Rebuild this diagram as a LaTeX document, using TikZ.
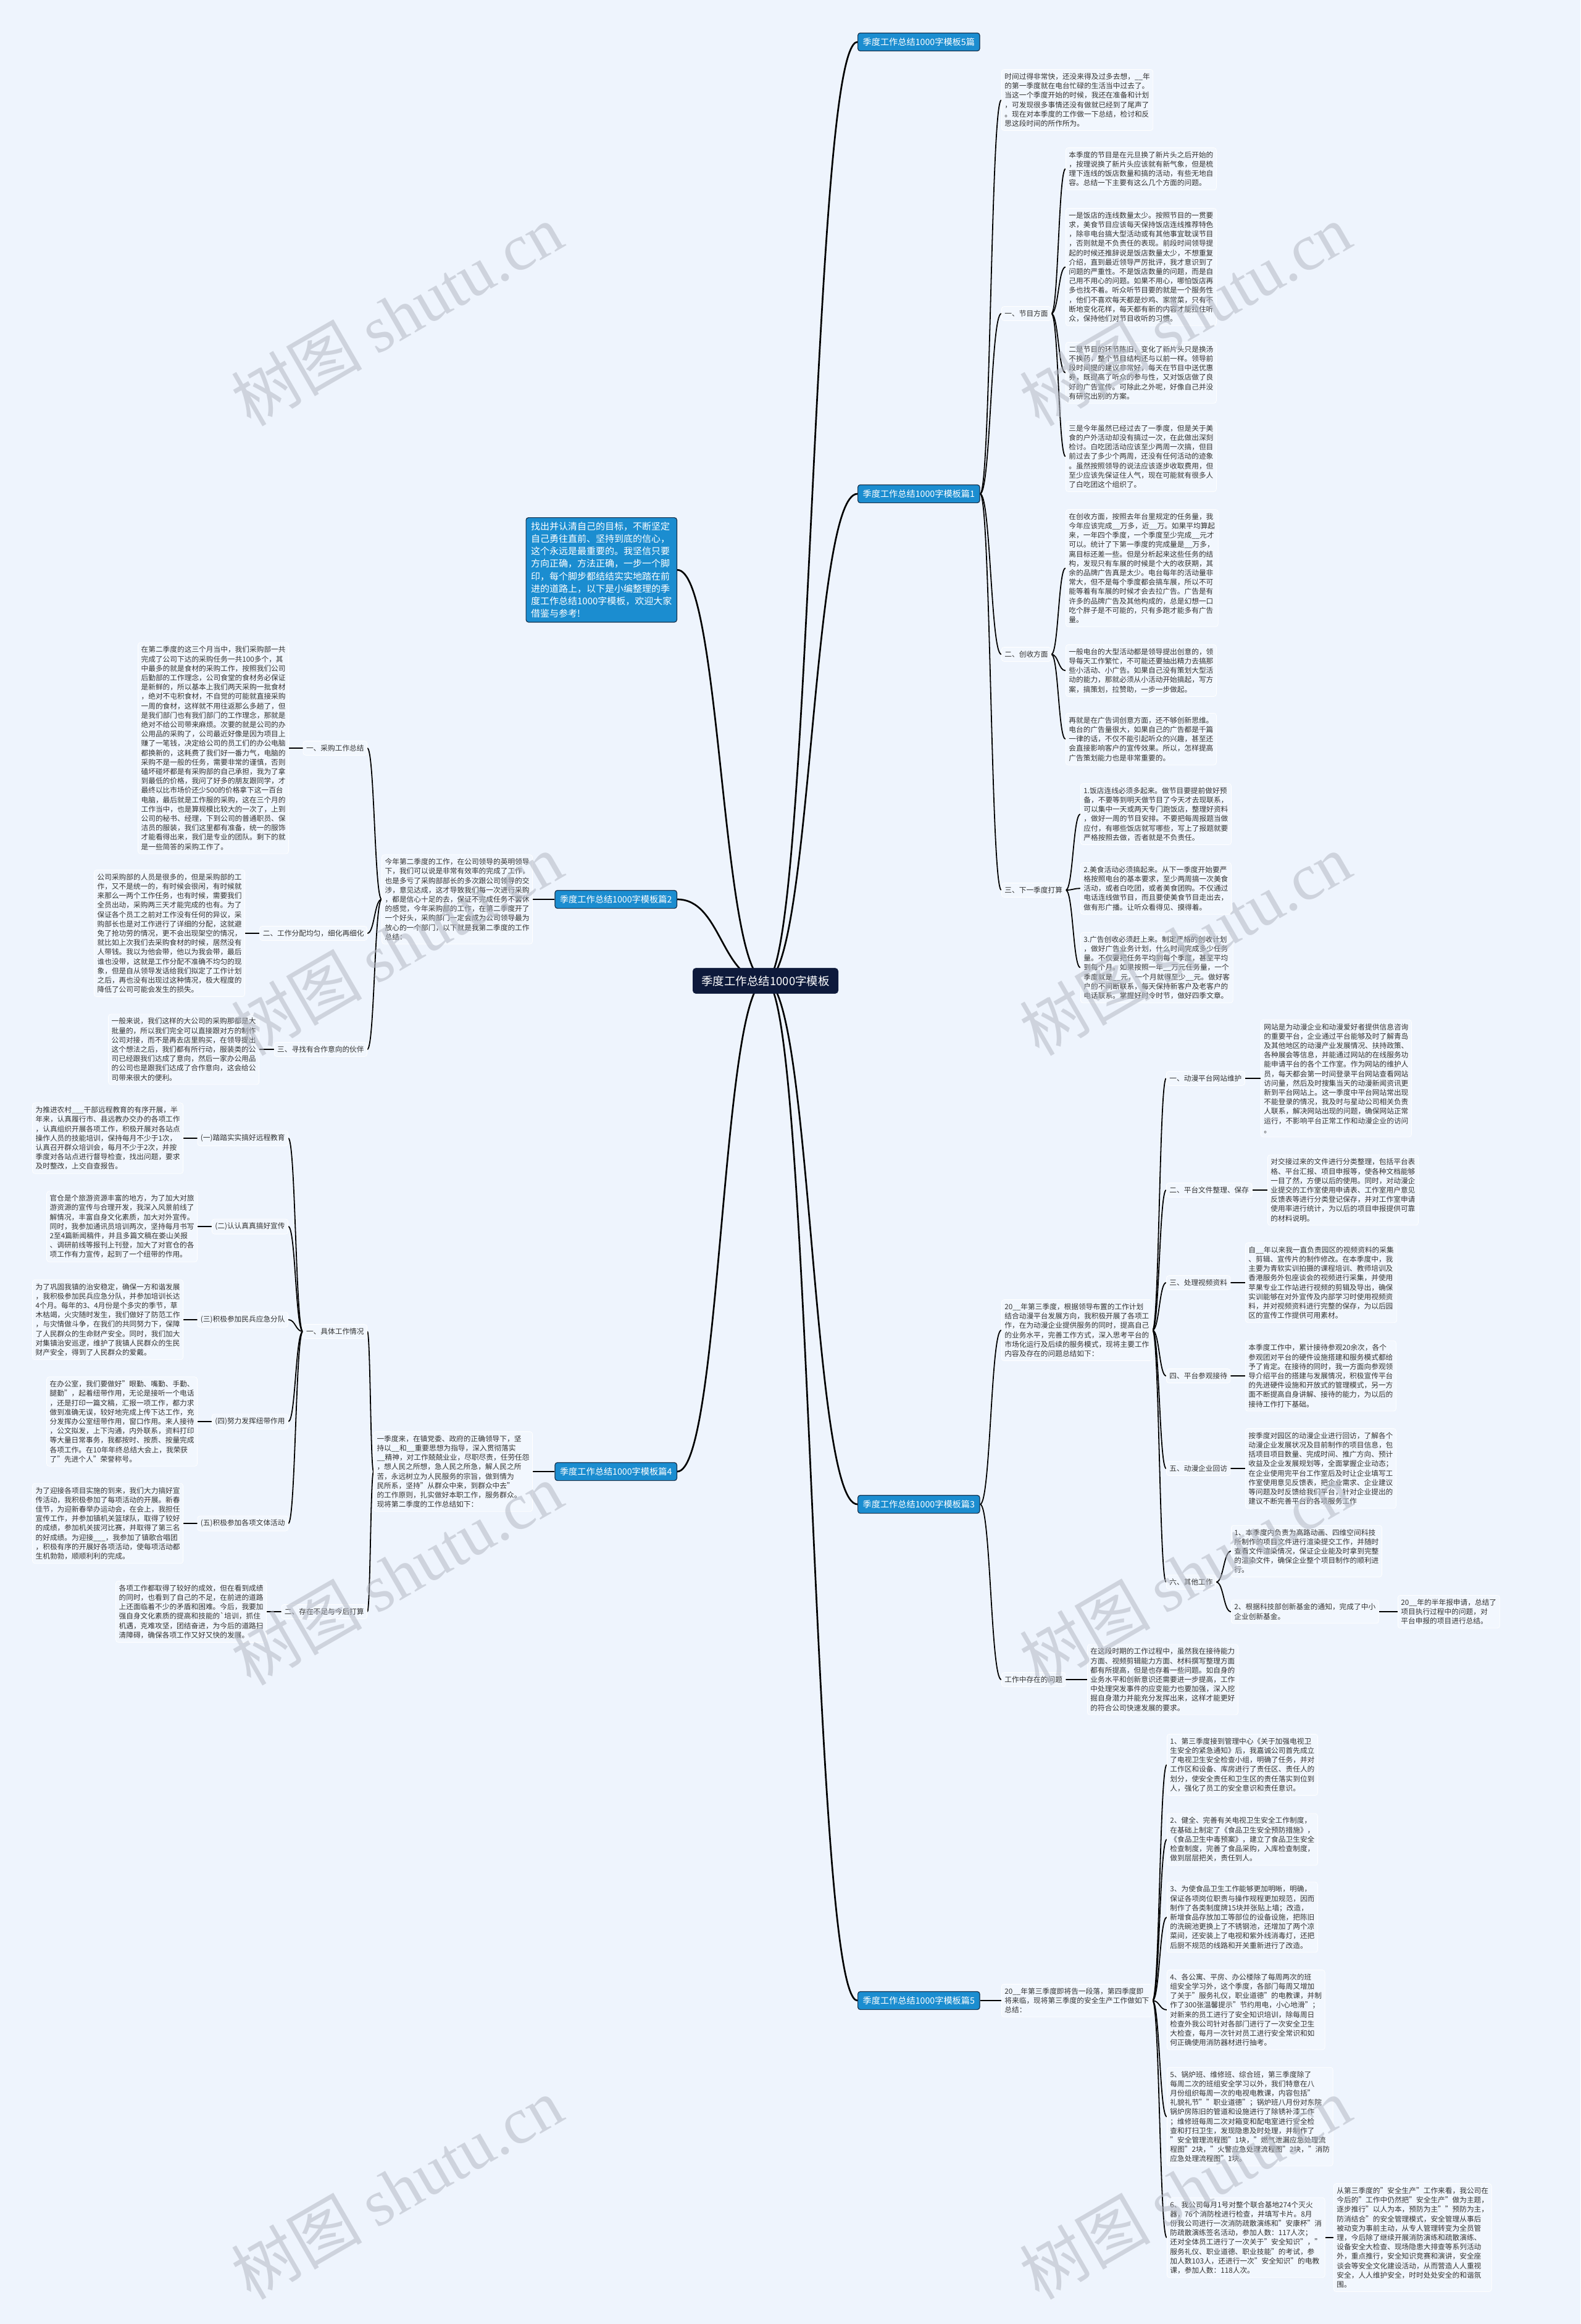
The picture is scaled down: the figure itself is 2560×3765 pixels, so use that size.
\documentclass[tikz,border=0pt]{standalone}
\usepackage{fontspec}
\setmainfont{Noto Sans CJK SC}
\newfontfamily\wmserif{Liberation Serif}
\usetikzlibrary{calc}

\definecolor{pagebg}{HTML}{EEF4FD}
\definecolor{notebg}{HTML}{F2F7FE}
\definecolor{ink}{HTML}{333333}
\definecolor{topicblue}{HTML}{1B8DD0}
\definecolor{topicline}{HTML}{15314D}
\definecolor{rootfill}{HTML}{0E1A3B}
\definecolor{wmgray}{HTML}{B4B9C4}

\pgfdeclarelayer{back}
\pgfdeclarelayer{wires}
\pgfsetlayers{back,wires,main}

\tikzset{
  note/.style={draw=white,line width=0.8,fill=notebg,rounded corners=4,inner xsep=5,inner ysep=6,
    align=left,text=ink,font=\fontsize{11.7}{15.2}\selectfont},
  topic/.style={draw=topicline,line width=1.2,fill=topicblue,rounded corners=4,inner xsep=8,inner ysep=8,
    text=white,font=\fontsize{14.2}{17}\selectfont},
  introbox/.style={topic,align=left,inner ysep=7,font=\fontsize{15}{20.2}\selectfont},
  rootbox/.style={draw=rootfill,fill=rootfill,rounded corners=5,inner xsep=14,inner ysep=12,
    text=white,font=\fontsize{18.5}{22}\selectfont},
  wire/.style={draw=black,line width=1.8,
    to path={let \p1=(\tikztostart),\p2=(\tikztotarget) in
      .. controls ({(\x1+\x2)/2},\y1) and ({(\x1+\x2)/2},\y2) .. (\tikztotarget)}},
  trunk/.style={wire,line width=2.7},
  wmark/.style={text=wmgray,opacity=0.55,rotate=30,font=\fontsize{106}{110}\selectfont}
}

\begin{document}
\begin{tikzpicture}[x=1pt,y=-1pt]
\begin{pgfonlayer}{back}
\fill[pagebg] (0,0) rectangle (2560,3765);
\end{pgfonlayer}
\useasboundingbox (0,0) rectangle (2560,3765);

% root and main topics
\node[rootbox] (root) at (1240,1589) {季度工作总结1000字模板};
\node[topic,anchor=west] (t5) at (1389,68) {季度工作总结1000字模板5篇};
\node[topic,anchor=west] (p1) at (1389,800) {季度工作总结1000字模板篇1};
\node[topic,anchor=west] (p3) at (1389,2437) {季度工作总结1000字模板篇3};
\node[topic,anchor=west] (p5) at (1389,3241) {季度工作总结1000字模板篇5};
\node[topic,anchor=east] (p2) at (1097,1457) {季度工作总结1000字模板篇2};
\node[topic,anchor=east] (p4) at (1097,2384) {季度工作总结1000字模板篇4};
\node[introbox,anchor=north east] (intro) at (1097,838) {找出并认清自己的目标，不断坚定\\
自己勇往直前、坚持到底的信心，\\
这个永远是最重要的。我坚信只要\\
方向正确，方法正确，一步一个脚\\
印，每个脚步都结结实实地踏在前\\
进的道路上，以下是小编整理的季\\
度工作总结1000字模板，欢迎大家\\
借鉴与参考!};

% pian 1
\node[note,anchor=west] (a0) at (1622,162) {时间过得非常快，还没来得及过多去想，\_\_年\\
的第一季度就在电台忙碌的生活当中过去了。\\
当这一个季度开始的时候，我还在准备和计划\\
，可发现很多事情还没有做就已经到了尾声了\\
。现在对本季度的工作做一下总结，检讨和反\\
思这段时间的所作所为。};
\node[note,anchor=west] (a1) at (1622,508) {一、节目方面};
\node[note,anchor=west] (a2) at (1622,1060) {二、创收方面};
\node[note,anchor=west] (a3) at (1622,1442) {三、下一季度打算};
\node[note,anchor=north west] (a11) at (1726,239) {本季度的节目是在元旦换了新片头之后开始的\\
，按理说换了新片头应该就有新气象，但是梳\\
理下连线的饭店数量和搞的活动，有些无地自\\
容。总结一下主要有这么几个方面的问题。};
\node[note,anchor=north west] (a12) at (1726,337) {一是饭店的连线数量太少。按照节目的一贯要\\
求，美食节目应该每天保持饭店连线推荐特色\\
，除非电台搞大型活动或有其他事宜耽误节目\\
，否则就是不负责任的表现。前段时间领导提\\
起的时候还推辞说是饭店数量太少，不想重复\\
介绍，直到最近领导严厉批评，我才意识到了\\
问题的严重性。不是饭店数量的问题，而是自\\
己用不用心的问题。如果不用心，哪怕饭店再\\
多也找不着。听众听节目要的就是一个服务性\\
，他们不喜欢每天都是炒鸡、家常菜，只有不\\
断地变化花样，每天都有新的内容才能拉住听\\
众，保持他们对节目收听的习惯。};
\node[note,anchor=north west] (a13) at (1726,554) {二是节目的环节陈旧，变化了新片头只是换汤\\
不换药，整个节目结构还与以前一样。领导前\\
段时间提的建议非常好，每天在节目中送优惠\\
券，既提高了听众的参与性，又对饭店做了良\\
好的广告宣传。可除此之外呢，好像自己并没\\
有研究出别的方案。};
\node[note,anchor=north west] (a14) at (1726,682) {三是今年虽然已经过去了一季度，但是关于美\\
食的户外活动却没有搞过一次，在此做出深刻\\
检讨。白吃团活动应该至少两周一次搞，但目\\
前过去了多少个两周，还没有任何活动的迹象\\
。虽然按照领导的说法应该逐步收取费用，但\\
至少应该先保证住人气，现在可能就有很多人\\
了白吃团这个组织了。};
\node[note,anchor=north west] (a21) at (1726,825) {在创收方面，按照去年台里规定的任务量，我\\
今年应该完成\_\_万多，近\_\_万。如果平均算起\\
来，一年四个季度，一个季度至少完成\_\_元才\\
可以。统计了下第一季度的完成量是\_\_万多，\\
离目标还差一些。但是分析起来这些任务的结\\
构，发现只有车展的时候是个大的收获期，其\\
余的品牌广告真是太少。电台每年的活动量非\\
常大，但不是每个季度都会搞车展，所以不可\\
能等着有车展的时候才会去拉广告。广告是有\\
许多的品牌广告及其他构成的，总是幻想一口\\
吃个胖子是不可能的，只有多跑才能多有广告\\
量。};
\node[note,anchor=north west] (a22) at (1726,1044) {一般电台的大型活动都是领导提出创意的，领\\
导每天工作繁忙，不可能还要抽出精力去搞那\\
些小活动、小广告。如果自己没有策划大型活\\
动的能力，那就必须从小活动开始搞起，写方\\
案，搞策划，拉赞助，一步一步做起。};
\node[note,anchor=north west] (a23) at (1726,1155) {再就是在广告词创意方面，还不够创新思维。\\
电台的广告量很大，如果自己的广告都是千篇\\
一律的话，不仅不能引起听众的兴趣，甚至还\\
会直接影响客户的宣传效果。所以，怎样提高\\
广告策划能力也是非常重要的。};
\node[note,anchor=north west] (a31) at (1750,1269) {1.饭店连线必须多起来。做节目要提前做好预\\
备，不要等到明天做节目了今天才去现联系，\\
可以集中一天或两天专门跑饭店，整理好资料\\
，做好一周的节目安排。不要把每周报题当做\\
应付，有哪些饭店就写哪些，写上了报题就要\\
严格按照去做，否者就是不负责任。};
\node[note,anchor=north west] (a32) at (1750,1397) {2.美食活动必须搞起来。从下一季度开始要严\\
格按照电台的基本要求，至少两周搞一次美食\\
活动，或者白吃团，或者美食团购。不仅通过\\
电话连线做节目，而且要使美食节目走出去，\\
做有形广播。让听众看得见、摸得着。};
\node[note,anchor=north west] (a33) at (1750,1510) {3.广告创收必须赶上来。制定严格的创收计划\\
，做好广告业务计划，什么时间完成多少任务\\
量。不仅要把任务平均到每个季度，甚至平均\\
到每个月。如果按照一年\_\_万元任务量，一个\\
季度就是\_\_元，一个月就得至少\_\_元。做好客\\
户的不间断联系，每天保持新客户及老客户的\\
电话联系。掌握好时令时节，做好四季文章。};

% pian 2
\node[note,anchor=east] (b0) at (863,1457) {今年第二季度的工作，在公司领导的英明领导\\
下，我们可以说是非常有效率的完成了工作，\\
也是多亏了采购部部长的多次跟公司领导的交\\
涉，意见达成，这才导致我们每一次进行采购\\
，都是信心十足的去，保证不完成任务不罢休\\
的感觉，今年采购部的工作，在第二季度开了\\
一个好头，采购部门一定会成为公司领导最为\\
放心的一个部门，以下就是我第二季度的工作\\
总结：};
\node[note,anchor=east] (b1) at (595,1212) {一、采购工作总结};
\node[note,anchor=east] (b2) at (595,1512) {二、工作分配均匀，细化再细化};
\node[note,anchor=east] (b3) at (595,1700) {三、寻找有合作意向的伙伴};
\node[note,anchor=east] (b11) at (468,1212) {在第二季度的这三个月当中，我们采购部一共\\
完成了公司下达的采购任务一共100多个，其\\
中最多的就是食材的采购工作，按照我们公司\\
后勤部的工作理念，公司食堂的食材务必保证\\
是新鲜的，所以基本上我们两天采购一批食材\\
，绝对不屯积食材，不自觉的可能就直接采购\\
一周的食材，这样就不用往返那么多趟了，但\\
是我们部门也有我们部门的工作理念，那就是\\
绝对不给公司带来麻烦。次要的就是公司的办\\
公用品的采购了，公司最近好像是因为项目上\\
赚了一笔钱，决定给公司的员工们的办公电脑\\
都换新的，这耗费了我们好一番力气，电脑的\\
采购不是一般的任务，需要非常的谨慎，否则\\
磕坏碰坏都是有采购部的自己承担，我为了拿\\
到最低的价格，我问了好多的朋友跟同学，才\\
最终以比市场价还少500的价格拿下这一百台\\
电脑，最后就是工作服的采购，这在三个月的\\
工作当中，也是算规模比较大的一次了，上到\\
公司的秘书、经理，下到公司的普通职员、保\\
洁员的服装，我们这里都有准备，统一的服饰\\
才能看得出来，我们是专业的团队。剩下的就\\
是一些简答的采购工作了。};
\node[note,anchor=east] (b21) at (397,1512) {公司采购部的人员是很多的，但是采购部的工\\
作，又不是统一的，有时候会很闲，有时候就\\
来那么一两个工作任务，也有时候，需要我们\\
全员出动，采购两三天才能完成的也有。为了\\
保证各个员工之前对工作没有任何的异议，采\\
购部长也是对工作进行了详细的分配，这就避\\
免了抢功劳的情况，更不会出现架空的情况，\\
就比如上次我们去采购食材的时候，居然没有\\
人带钱。我以为他会带，他以为我会带，最后\\
谁也没带，这就是工作分配不准确不均匀的现\\
象，但是自从领导发话给我们拟定了工作计划\\
之后，再也没有出现过这种情况，极大程度的\\
降低了公司可能会发生的损失。};
\node[note,anchor=east] (b31) at (420,1700) {一般来说，我们这样的大公司的采购那都是大\\
批量的，所以我们完全可以直接跟对方的制作\\
公司对接，而不是再去店里购买，在领导提出\\
这个想法之后，我们都有所行动，服装类的公\\
司已经跟我们达成了意向，然后一家办公用品\\
的公司也是跟我们达成了合作意向，这会给公\\
司带来很大的便利。};

% pian 4
\node[note,anchor=east] (c0) at (863,2384) {一季度来，在镇党委、政府的正确领导下，坚\\
持以\_\_和\_\_重要思想为指导，深入贯彻落实\\
\_\_精神，对工作兢兢业业，尽职尽责，任劳任怨\\
，想人民之所想，急人民之所急，解人民之所\\
苦，永远树立为人民服务的宗旨，做到情为\\
民所系，坚持"从群众中来，到群众中去"\\
的工作原则，扎实做好本职工作，服务群众。\\
现将第二季度的工作总结如下：};
\node[note,anchor=east] (c1) at (595,2157) {一、具体工作情况};
\node[note,anchor=east] (c2) at (595,2611) {二、存在不足与今后打算};
\node[note,anchor=east] (c11) at (467,1844) {(一)踏踏实实搞好远程教育};
\node[note,anchor=east] (c12) at (467,1987) {(二)认认真真搞好宣传};
\node[note,anchor=east] (c13) at (467,2138) {(三)积极参加民兵应急分队};
\node[note,anchor=east] (c14) at (467,2303) {(四)努力发挥纽带作用};
\node[note,anchor=east] (c15) at (467,2468) {(五)积极参加各项文体活动};
\node[note,anchor=east] (c11p) at (297,1844) {为推进农村\_\_\_干部远程教育的有序开展，半\\
年来，认真履行市、县远教办交办的各项工作\\
，认真组织开展各项工作，积极开展对各站点\\
操作人员的技能培训，保持每月不少于1次，\\
认真召开群众培训会，每月不少于2次，并按\\
季度对各站点进行督导检查，找出问题，要求\\
及时整改，上交自查报告。};
\node[note,anchor=east] (c12p) at (320,1987) {官仓是个旅游资源丰富的地方，为了加大对旅\\
游资源的宣传与合理开发，我深入风景前线了\\
解情况，丰富自身文化素质，加大对外宣传。\\
同时，我参加通讯员培训两次，坚持每月书写\\
2至4篇新闻稿件，并且多篇文稿在娄山关报\\
、调研前线等报刊上刊登，加大了对官仓的各\\
项工作有力宣传，起到了一个纽带的作用。};
\node[note,anchor=east] (c13p) at (297,2138) {为了巩固我镇的治安稳定，确保一方和谐发展\\
，我积极参加民兵应急分队，并参加培训长达\\
4个月。每年的3、4月份是个多灾的季节，草\\
木枯竭，火灾随时发生，我们做好了防范工作\\
，与灾情做斗争，在我们的共同努力下，保障\\
了人民群众的生命财产安全。同时，我们加大\\
对集镇治安巡逻，维护了我镇人民群众的生民\\
财产安全，得到了人民群众的爱戴。};
\node[note,anchor=east] (c14p) at (320,2303) {在办公室，我们要做好"眼勤、嘴勤、手勤、\\
腿勤"，起着纽带作用，无论是接听一个电话\\
，还是打印一篇文稿，汇报一项工作，都力求\\
做到准确无误，较好地完成上传下达工作，充\\
分发挥办公室纽带作用，窗口作用。来人接待\\
，公文拟发，上下沟通，内外联系，资料打印\\
等大量日常事务，我都按时、按质、按量完成\\
各项工作。在10年年终总结大会上，我荣获\\
了"先进个人"荣誉称号。};
\node[note,anchor=east] (c15p) at (297,2468) {为了迎接各项目实施的到来，我们大力搞好宣\\
传活动，我积极参加了每项活动的开展。新春\\
佳节，为迎新春举办运动会，在会上，我担任\\
宣传工作，并参加镇机关篮球队，取得了较好\\
的成绩，参加机关拔河比赛，并取得了第三名\\
的好成绩。为迎接\_\_\_，我参加了镇歌合唱团\\
，积极有序的开展好各项活动，使每项活动都\\
生机勃勃，顺顺利利的完成。};
\node[note,anchor=east] (c2p) at (432,2611) {各项工作都取得了较好的成效，但在看到成绩\\
的同时，也看到了自己的不足，在前进的道路\\
上还面临着不少的矛盾和困难。今后，我要加\\
强自身文化素质的提高和技能的\textasciigrave 培训，抓住\\
机遇，克难攻坚，团结奋进，为今后的道路扫\\
清障碍，确保各项工作又好又快的发展。};

% pian 3
\node[note,anchor=west] (d0) at (1622,2155) {20\_\_年第三季度，根据领导布置的工作计划\\
结合动漫平台发展方向，我积极开展了各项工\\
作，在为动漫企业提供服务的同时，提高自己\\
的业务水平，完善工作方式，深入思考平台的\\
市场化运行及后续的服务模式，现将主要工作\\
内容及存在的问题总结如下：};
\node[note,anchor=west] (d7) at (1622,2721) {工作中存在的问题};
\node[note,anchor=west] (d7p) at (1761,2721) {在这段时期的工作过程中，虽然我在接待能力\\
方面、视频剪辑能力方面、材料撰写整理方面\\
都有所提高，但是也存着一些问题。如自身的\\
业务水平和创新意识还需要进一步提高，工作\\
中处理突发事件的应变能力也要加强，深入挖\\
掘自身潜力并能充分发挥出来，这样才能更好\\
的符合公司快速发展的要求。};
\node[note,anchor=west] (d1) at (1889,1747) {一、动漫平台网站维护};
\node[note,anchor=west] (d2) at (1889,1928) {二、平台文件整理、保存};
\node[note,anchor=west] (d3) at (1889,2078) {三、处理视频资料};
\node[note,anchor=west] (d4) at (1889,2229) {四、平台参观接待};
\node[note,anchor=west] (d5) at (1889,2379) {五、动漫企业回访};
\node[note,anchor=west] (d6) at (1889,2563) {六、其他工作};
\node[note,anchor=west] (d1p) at (2042,1747) {网站是为动漫企业和动漫爱好者提供信息咨询\\
的重要平台，企业通过平台能够及时了解青岛\\
及其他地区的动漫产业发展情况、扶持政策、\\
各种展会等信息，并能通过网站的在线服务功\\
能申请平台的各个工作室。作为网站的维护人\\
员，每天都会第一时间登录平台网站查看网站\\
访问量，然后及时搜集当天的动漫新闻资讯更\\
新到平台网站上。这一季度中平台网站常出现\\
不能登录的情况，我及时与星动公司相关负责\\
人联系，解决网站出现的问题，确保网站正常\\
运行，不影响平台正常工作和动漫企业的访问\\
。};
\node[note,anchor=west] (d2p) at (2053,1928) {对交接过来的文件进行分类整理，包括平台表\\
格、平台汇报、项目申报等，使各种文档能够\\
一目了然，方便以后的使用。同时，对动漫企\\
业提交的工作室使用申请表、工作室用户意见\\
反馈表等进行分类登记保存，并对工作室申请\\
使用率进行统计，为以后的项目申报提供可靠\\
的材料说明。};
\node[note,anchor=west] (d3p) at (2017,2078) {自\_\_年以来我一直负责园区的视频资料的采集\\
、剪辑、宣传片的制作修改。在本季度中，我\\
主要为青软实训拍摄的课程培训、教师培训及\\
香港服务外包座谈会的视频进行采集，并使用\\
苹果专业工作站进行视频的剪辑及导出，确保\\
实训能够在对外宣传及内部学习时使用视频资\\
料，并对视频资料进行完整的保存，为以后园\\
区的宣传工作提供可用素材。};
\node[note,anchor=west] (d4p) at (2017,2229) {本季度工作中，累计接待参观20余次，各个\\
参观团对平台的硬件设施搭建和服务模式都给\\
予了肯定。在接待的同时，我一方面向参观领\\
导介绍平台的搭建与发展情况，积极宣传平台\\
的先进硬件设施和开放式的管理模式，另一方\\
面不断提高自身讲解、接待的能力，为以后的\\
接待工作打下基础。};
\node[note,anchor=west] (d5p) at (2017,2379) {按季度对园区的动漫企业进行回访，了解各个\\
动漫企业发展状况及目前制作的项目信息，包\\
括项目项目数量、完成时间、推广方向、预计\\
收益及企业发展规划等，全面掌握企业动态；\\
在企业使用完平台工作室后及时让企业填写工\\
作室使用意见反馈表，把企业需求、企业建议\\
等问题及时反馈给我们平台，针对企业提出的\\
建议不断完善平台的各项服务工作};
\node[note,anchor=west] (d61) at (1994,2513) {1、本季度内负责为高路动画、四维空间科技\\
所制作的项目文件进行渲染提交工作，并随时\\
查看文件渲染情况，保证企业能及时拿到完整\\
的渲染文件，确保企业整个项目制作的顺利进\\
行。};
\node[note,anchor=west] (d62) at (1994,2611) {2、根据科技部创新基金的通知，完成了中小\\
企业创新基金。};
\node[note,anchor=west] (d62p) at (2264,2611) {20\_\_年的半年报申请，总结了\\
项目执行过程中的问题，对\\
平台申报的项目进行总结。};

% pian 5
\node[note,anchor=west] (e0) at (1622,3241) {20\_\_年第三季度即将告一段落，第四季度即\\
将来临，现将第三季度的安全生产工作做如下\\
总结：};
\node[note,anchor=west] (e1) at (1890,2859) {1、第三季度接到管理中心《关于加强电视卫\\
生安全的紧急通知》后，我嘉诚公司首先成立\\
了电视卫生安全检查小组，明确了任务，并对\\
工作区和设备、库房进行了责任区、责任人的\\
划分，使安全责任和卫生区的责任落实到位到\\
人，强化了员工的安全意识和责任意识。};
\node[note,anchor=west] (e2) at (1890,2980) {2、健全、完善有关电视卫生安全工作制度，\\
在基础上制定了《食品卫生安全预防措施》，\\
《食品卫生中毒预案》，建立了食品卫生安全\\
检查制度，完善了食品采购，入库检查制度，\\
做到层层把关，责任到人。};
\node[note,anchor=west] (e3) at (1890,3106) {3、为使食品卫生工作能够更加明晰，明确，\\
保证各项岗位职责与操作规程更加规范，因而\\
制作了各类制度牌15块并张贴上墙；改造，\\
新增食品存放加工等部位的设备设施，把陈旧\\
的洗碗池更换上了不锈钢池，还增加了两个凉\\
菜间，还安装上了电视和紫外线消毒灯，还把\\
后厨不规范的线路和开关重新进行了改造。};
\node[note,anchor=west] (e4) at (1890,3256) {4、各公寓、平房、办公楼除了每周两次的班\\
组安全学习外，这个季度，各部门每周又增加\\
了关于"服务礼仪，职业道德"的电教课，并制\\
作了300张温馨提示"节约用电，小心地滑"；\\
对新来的员工进行了安全知识培训，除每周日\\
检查外我公司针对各部门进行了一次安全卫生\\
大检查，每月一次针对员工进行安全常识和如\\
何正确使用消防器材进行抽考。};
\node[note,anchor=west] (e5) at (1890,3429) {5、锅炉班、维修班、综合班，第三季度除了\\
每周二次的班组安全学习以外，我们特意在八\\
月份组织每周一次的电视电教课，内容包括"\\
礼貌礼节""职业道德"；锅炉班八月份对东院\\
锅炉房陈旧的管道和设施进行了除锈补漆工作\\
；维修班每周二次对箱变和配电室进行安全检\\
查和打扫卫生，发现隐患及时处理，并制作了\\
"安全管理流程图"1块，"燃气泄漏应急处理流\\
程图"2块，"火警应急处理流程图"2块，"消防\\
应急处理流程图"1块。};
\node[note,anchor=west] (e6) at (1890,3625) {6、我公司每月1号对整个联合基地274个灭火\\
器，76个消防栓进行检查，并填写卡片。8月\\
份我公司进行一次消防疏散演练和"安康杯"消\\
防疏散演练签名活动，参加人数：117人次；\\
还对全体员工进行了一次关于"安全知识"，"\\
服务礼仪、职业道德、职业技能"的考试，参\\
加人数103人，还进行一次"安全知识"的电教\\
课，参加人数：118人次。};
\node[note,anchor=west] (e6p) at (2160,3625) {从第三季度的"安全生产"工作来看，我公司在\\
今后的"工作中仍然把"安全生产"做为主题，\\
逐步推行"以人为本，预防为主""预防为主，\\
防消结合"的安全管理模式，安全管理从事后\\
被动变为事前主动，从专人管理转变为全员管\\
理，今后除了继续开展消防演练和疏散演练、\\
设备安全大检查、现场隐患大排查等系列活动\\
外，重点推行，安全知识竞赛和演讲，安全座\\
谈会等安全文化建设活动，从而营造人人重视\\
安全，人人维护安全，时时处处安全的和谐氛\\
围。};

% connectors
\begin{pgfonlayer}{wires}
\foreach \t in {t5,p1,p3,p5}
  \draw[trunk] (root.center) to (\t.west);
\foreach \t in {intro,p2,p4}
  \draw[trunk] (root.center) to (\t.east);
\foreach \c in {a0,a1,a2,a3}
  \draw[wire] (p1.east) to (\c.west);
\foreach \c in {a11,a12,a13,a14}
  \draw[wire] (a1.east) to (\c.west);
\foreach \c in {a21,a22,a23}
  \draw[wire] (a2.east) to (\c.west);
\foreach \c in {a31,a32,a33}
  \draw[wire] (a3.east) to (\c.west);
\draw[wire] (p2.west) to (b0.east);
\foreach \c in {b1,b2,b3}
  \draw[wire] (b0.west) to (\c.east);
\draw[wire] (b1.west) to (b11.east);
\draw[wire] (b2.west) to (b21.east);
\draw[wire] (b3.west) to (b31.east);
\draw[wire] (p4.west) to (c0.east);
\foreach \c in {c1,c2}
  \draw[wire] (c0.west) to (\c.east);
\foreach \c in {c11,c12,c13,c14,c15}
  \draw[wire] (c1.west) to (\c.east);
\foreach \c in {c11,c12,c13,c14,c15}
  \draw[wire] (\c.west) to (\c p.east);
\draw[wire] (c2.west) to (c2p.east);
\draw[wire] (p3.east) to (d0.west);
\draw[wire] (p3.east) to (d7.west);
\draw[wire] (d7.east) to (d7p.west);
\foreach \c in {d1,d2,d3,d4,d5,d6}
  \draw[wire] (d0.east) to (\c.west);
\foreach \c in {d1,d2,d3,d4,d5}
  \draw[wire] (\c.east) to (\c p.west);
\draw[wire] (d6.east) to (d61.west);
\draw[wire] (d6.east) to (d62.west);
\draw[wire] (d62.east) to (d62p.west);
\draw[wire] (p5.east) to (e0.west);
\foreach \c in {e1,e2,e3,e4,e5,e6}
  \draw[wire] (e0.east) to (\c.west);
\draw[wire] (e6.east) to (e6p.west);
\end{pgfonlayer}

% watermarks
\foreach \wx in {643,1920}
  \foreach \wy in {510,1530,2550,3545}
    \node[wmark] (wm-\wx-\wy) at (\wx,\wy) {树图 {\wmserif shutu.cn}};
\end{tikzpicture}
\end{document}
